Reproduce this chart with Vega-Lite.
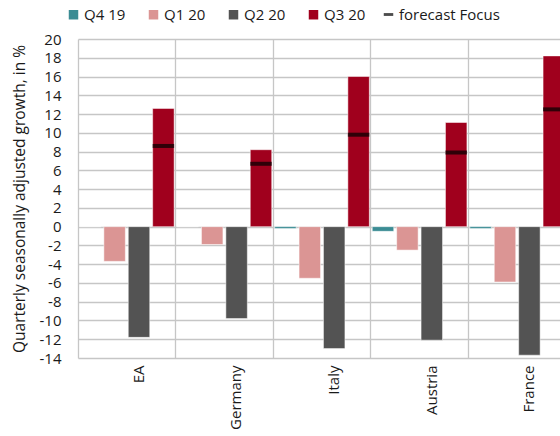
{
  "$schema": "https://vega.github.io/schema/vega-lite/v6.json",
  "autosize": {"type": "none"},
  "padding": {"left": 78, "top": 39, "right": -6, "bottom": 78},
  "width": 488,
  "height": 319,
  "background": "white",
  "config": {
    "font": "Open Sans",
    "view": {"stroke": null},
    "axis": {"labelColor": "#1a1a1a", "titleColor": "#1a1a1a", "labelFontSize": 15, "gridColor": "#c6c6c6", "gridWidth": 1.3},
    "legend": {"orient": "none", "direction": "horizontal", "title": null, "labelFontSize": 15, "labelColor": "#1a1a1a", "symbolSize": 90, "symbolStrokeWidth": 0, "labelOffset": 3}
  },
  "datasets": {
    "growth": [
      {"country": "EA", "quarter": "Q4 19", "growth": 0.0},
      {"country": "EA", "quarter": "Q1 20", "growth": -3.7},
      {"country": "EA", "quarter": "Q2 20", "growth": -11.8},
      {"country": "EA", "quarter": "Q3 20", "growth": 12.6},
      {"country": "Germany", "quarter": "Q4 19", "growth": 0.0},
      {"country": "Germany", "quarter": "Q1 20", "growth": -1.9},
      {"country": "Germany", "quarter": "Q2 20", "growth": -9.8},
      {"country": "Germany", "quarter": "Q3 20", "growth": 8.2},
      {"country": "Italy", "quarter": "Q4 19", "growth": -0.2},
      {"country": "Italy", "quarter": "Q1 20", "growth": -5.5},
      {"country": "Italy", "quarter": "Q2 20", "growth": -13.0},
      {"country": "Italy", "quarter": "Q3 20", "growth": 16.0},
      {"country": "Austria", "quarter": "Q4 19", "growth": -0.5},
      {"country": "Austria", "quarter": "Q1 20", "growth": -2.5},
      {"country": "Austria", "quarter": "Q2 20", "growth": -12.1},
      {"country": "Austria", "quarter": "Q3 20", "growth": 11.1},
      {"country": "France", "quarter": "Q4 19", "growth": -0.2},
      {"country": "France", "quarter": "Q1 20", "growth": -5.9},
      {"country": "France", "quarter": "Q2 20", "growth": -13.7},
      {"country": "France", "quarter": "Q3 20", "growth": 18.2}
    ],
    "forecast": [
      {"country": "EA", "quarter": "Q3 20", "growth": 8.6},
      {"country": "Germany", "quarter": "Q3 20", "growth": 6.7},
      {"country": "Italy", "quarter": "Q3 20", "growth": 9.8},
      {"country": "Austria", "quarter": "Q3 20", "growth": 7.9},
      {"country": "France", "quarter": "Q3 20", "growth": 12.5}
    ]
  },
  "encoding": {
    "x": {
      "field": "country",
      "type": "nominal",
      "sort": ["EA", "Germany", "Italy", "Austria", "France"],
      "scale": {"paddingInner": 0, "paddingOuter": 0},
      "axis": {"title": null, "labelAngle": -90, "labelOffset": 12, "labelPadding": 7, "ticks": false, "domain": false, "grid": true, "bandPosition": 0}
    },
    "xOffset": {
      "field": "quarter",
      "type": "nominal",
      "scale": {"domain": ["Q4 19", "Q1 20", "Q2 20", "Q3 20"], "paddingInner": 0.12, "paddingOuter": 0.06}
    },
    "y": {
      "field": "growth",
      "type": "quantitative",
      "scale": {"domain": [-14, 20], "nice": false, "zero": false},
      "axis": {
        "title": "Quarterly seasonally adjusted growth, in %",
        "titleFontSize": 15.5,
        "titleFontWeight": "normal",
        "titlePadding": 12,
        "values": [-14, -12, -10, -8, -6, -4, -2, 0, 2, 4, 6, 8, 10, 12, 14, 16, 18, 20],
        "labelExpr": "replace(datum.label, '\u2212', '-')",
        "labelOverlap": false,
        "ticks": false,
        "domain": false,
        "labelPadding": 17,
        "grid": true
      }
    }
  },
  "layer": [
    {
      "data": {"name": "growth"},
      "mark": {"type": "bar", "stroke": "white", "strokeWidth": 0.5},
      "encoding": {
        "color": {
          "field": "quarter",
          "type": "nominal",
          "scale": {
            "domain": ["Q4 19", "Q1 20", "Q2 20", "Q3 20"],
            "range": ["#3b8c94", "#db9594", "#535353", "#a0001d"]
          },
          "legend": {"legendX": -12, "legendY": -32, "columnPadding": 20, "symbolType": "square"}
        }
      }
    },
    {
      "data": {"name": "forecast"},
      "mark": {"type": "tick", "color": "black", "thickness": 4, "size": 21.5, "orient": "horizontal"},
      "encoding": {
        "fill": {
          "datum": "forecast Focus",
          "type": "nominal",
          "scale": {"range": ["#000000"]},
          "legend": {"legendX": 303, "legendY": -32, "symbolType": "M-1,-0.3H1V0.3H-1Z", "symbolFillColor": "#000000"}
        }
      }
    }
  ]
}
